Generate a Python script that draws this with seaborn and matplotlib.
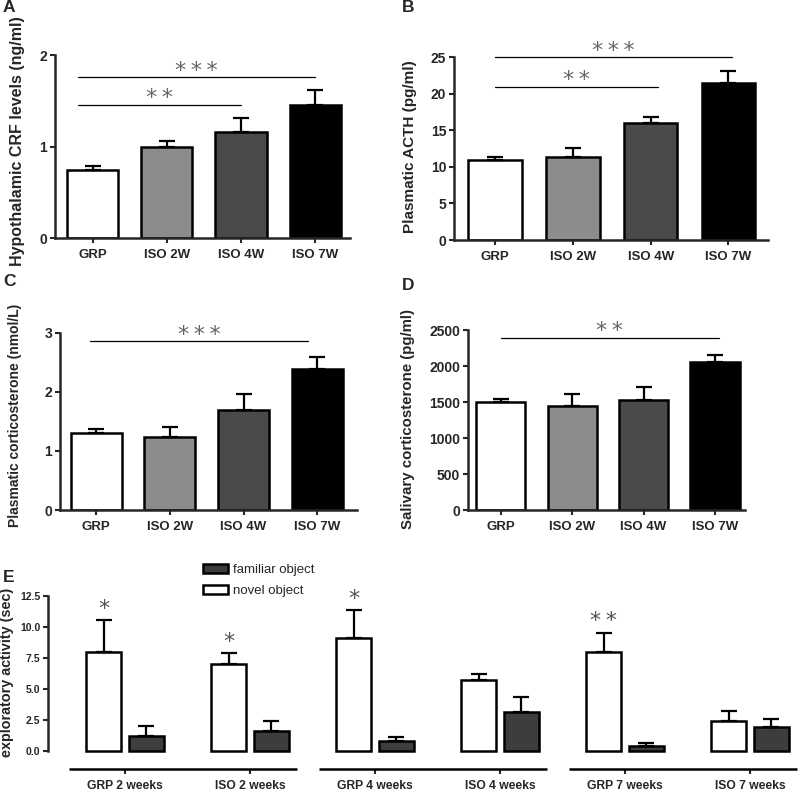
import numpy as np
import pandas as pd
import matplotlib
matplotlib.use("Agg")
import matplotlib.pyplot as plt
import matplotlib.transforms as mtransforms
import seaborn as sns

# --- data ---
groups = ["GRP", "ISO 2W", "ISO 4W", "ISO 7W"]
bar_colors = ["#ffffff", "#8c8c8c", "#4a4a4a", "#000000"]

crf_mean = [0.74, 0.99, 1.16, 1.45]
crf_sem = [0.05, 0.07, 0.15, 0.17]
acth_mean = [10.9, 11.3, 16.0, 21.5]
acth_sem = [0.4, 1.3, 0.8, 1.6]
cort_mean = [1.31, 1.23, 1.70, 2.39]
cort_sem = [0.07, 0.17, 0.27, 0.20]
saliv_mean = [1500, 1450, 1535, 2055]
saliv_sem = [50, 165, 170, 105]

# significance lines: (from group, to group, height, label)
crf_sig = [(-0.2, 3, 1.76, "***"), (-0.2, 2, 1.46, "**")]
acth_sig = [(0, 3.05, 25.0, "***"), (0, 2.1, 21.0, "**")]
cort_sig = [(-0.08, 2.88, 2.86, "***")]
saliv_sig = [(0, 3.05, 2400, "**")]

weeks = ["GRP 2 weeks", "ISO 2 weeks", "GRP 4 weeks", "ISO 4 weeks", "GRP 7 weeks", "ISO 7 weeks"]
novel_mean = [8.0, 7.0, 9.1, 5.75, 7.95, 2.45]
novel_sem = [2.55, 0.9, 2.3, 0.45, 1.6, 0.75]
familiar_mean = [1.25, 1.6, 0.8, 3.15, 0.4, 1.95]
familiar_sem = [0.75, 0.85, 0.3, 1.2, 0.22, 0.6]
novel_stars = ["*", "*", "*", "", "**", ""]

sns.set_style("ticks")
plt.rcParams["font.family"] = ["Liberation Sans", "DejaVu Sans"]
plt.rcParams["font.weight"] = "bold"

W, H = 799, 794
fig = plt.figure(figsize=(W / 100, H / 100), dpi=100)


def add_axes_px(left, right, top, bottom):
    return fig.add_axes([left / W, 1 - bottom / H, (right - left) / W, (bottom - top) / H])


def star_text(s):
    return "\u2009".join(s)


def bar_panel(ax, means, sems, sigs, ylabel, yticks, ylim_top, xlim, label_pos, label_size):
    df = pd.DataFrame({"group": groups, "value": means})
    sns.barplot(data=df, x="group", y="value", hue="group", palette=bar_colors,
                saturation=1, width=0.69, edgecolor="black", linewidth=1.8,
                errorbar=None, legend=False, ax=ax)
    bars = sorted(ax.patches, key=lambda p: p.get_x())
    for bar, err in zip(bars, sems):
        cx = bar.get_x() + bar.get_width() / 2
        ax.errorbar(cx, bar.get_height(), yerr=[[0], [err]], fmt="none", ecolor="black",
                    elinewidth=1.6, capsize=6, capthick=1.6, zorder=1)
    for i, j, y, lab in sigs:
        ax.plot([i, j], [y, y], color="black", lw=0.9)
        ax.annotate(star_text(lab), xy=((i + j) / 2, y), xytext=(0, 4.5), textcoords="offset points",
                    ha="center", va="center", fontsize=16, color="#666666",
                    family="DejaVu Sans", fontweight="normal")
    ax.set_xlim(*xlim)
    ax.set_ylim(0, ylim_top)
    ax.set_yticks(yticks)
    sns.despine(ax=ax)
    ax.spines["left"].set_bounds(yticks[0], yticks[-1])
    for s in ("left", "bottom"):
        ax.spines[s].set_linewidth(1.8)
    ax.tick_params(axis="both", direction="out", length=3.6, width=1.5, labelsize=10, pad=2)
    ax.tick_params(axis="x", labelsize=9.5, pad=4)
    ax.set_xlabel("")
    ax.set_ylabel(ylabel, fontsize=label_size, fontweight="bold")
    ax.yaxis.set_label_coords(label_pos[0] / W, 1 - label_pos[1] / H, transform=fig.transFigure)


axA = add_axes_px(55, 350, 46, 238)
bar_panel(axA, crf_mean, crf_sem, crf_sig, "Hypothalamic CRF levels (ng/ml)",
          [0, 1, 2], 2.1, (-0.51, 3.47), (25, 141), 11.5)

axB = add_axes_px(454, 768, 39, 240)
bar_panel(axB, acth_mean, acth_sem, acth_sig, "Plasmatic ACTH (pg/ml)",
          [0, 5, 10, 15, 20, 25], 27.5, (-0.53, 3.51), (417, 147), 11)

axC = add_axes_px(60, 357, 324, 510)
bar_panel(axC, cort_mean, cort_sem, cort_sig, "Plasmatic corticosterone (nmol/L)",
          [0, 1, 2, 3], 3.15, (-0.49, 3.54), (22, 415), 10)

axD = add_axes_px(468, 745, 316, 510)
bar_panel(axD, saliv_mean, saliv_sem, saliv_sig, "Salivary corticosterone (pg/ml)",
          [0, 500, 1000, 1500, 2000, 2500], 2700, (-0.46, 3.42), (415, 419), 10.8)

# --- panel E ---
axE = add_axes_px(48, 797, 565, 769)
dfE = pd.DataFrame({
    "week": weeks * 2,
    "object": ["novel object"] * len(weeks) + ["familiar object"] * len(weeks),
    "value": novel_mean + familiar_mean,
})
sns.barplot(data=dfE, x="week", y="value", hue="object",
            hue_order=["novel object", "familiar object"], palette=["#ffffff", "#3d3d3d"],
            saturation=1, width=0.68, gap=0.18, edgecolor="black", linewidth=1.8,
            errorbar=None, ax=axE)

for cont, sems in zip(axE.containers, [novel_sem, familiar_sem]):
    for bar, err in zip(cont, sems):
        cx = bar.get_x() + bar.get_width() / 2
        axE.errorbar(cx, bar.get_height(), yerr=[[0], [err]], fmt="none", ecolor="black",
                     elinewidth=1.6, capsize=6, capthick=1.6, zorder=1)

for bar, err, st in zip(axE.containers[0], novel_sem, novel_stars):
    if st:
        cx = bar.get_x() + bar.get_width() / 2
        axE.annotate(star_text(st), xy=(cx, bar.get_height() + err), xytext=(0, 8),
                     textcoords="offset points", ha="center", va="center", fontsize=16,
                     color="#555555", family="DejaVu Sans", fontweight="normal")

axE.set_xlim(-0.616, 5.376)
axE.set_ylim(-1.45, 15.0)
axE.set_yticks([0, 2.5, 5, 7.5, 10, 12.5])
sns.despine(ax=axE, bottom=True)
axE.spines["left"].set_bounds(0, 12.5)
axE.spines["left"].set_linewidth(1.8)
axE.tick_params(axis="both", direction="out", length=3.6, width=1.5, pad=2)
axE.tick_params(axis="y", labelsize=7.5)
axE.tick_params(axis="x", labelsize=8.7, pad=4)
axE.set_xlabel("")
axE.set_ylabel("exploratory activity (sec)", fontsize=10.4, fontweight="bold")
axE.yaxis.set_label_coords(14 / W, 1 - 672 / H, transform=fig.transFigure)

# broken x-axis: one segment per pair of groups
trans = mtransforms.blended_transform_factory(axE.transData, axE.transAxes)
for p in range(0, len(weeks), 2):
    axE.plot([p - 0.45, p + 1.38], [0, 0], transform=trans, color="black", lw=1.8,
             clip_on=False, solid_capstyle="butt")

handles, labels = axE.get_legend_handles_labels()
axE.legend(handles[::-1], labels[::-1], loc="upper left",
           bbox_to_anchor=(203 / W, 1 - 564 / H), bbox_transform=fig.transFigure,
           frameon=False, prop={"size": 9.5, "weight": "normal"}, handlelength=1.9,
           handleheight=0.65, handletextpad=0.35, labelspacing=0.7, borderpad=0,
           borderaxespad=0)

for lab, (x, y) in zip("ABCDE", [(3, 8), (402, 8), (3, 281), (402, 286), (3, 577)]):
    fig.text(x / W, 1 - y / H, lab, fontsize=12.5, fontweight="bold", ha="left", va="center")

fig.savefig("out.png", dpi=100)
